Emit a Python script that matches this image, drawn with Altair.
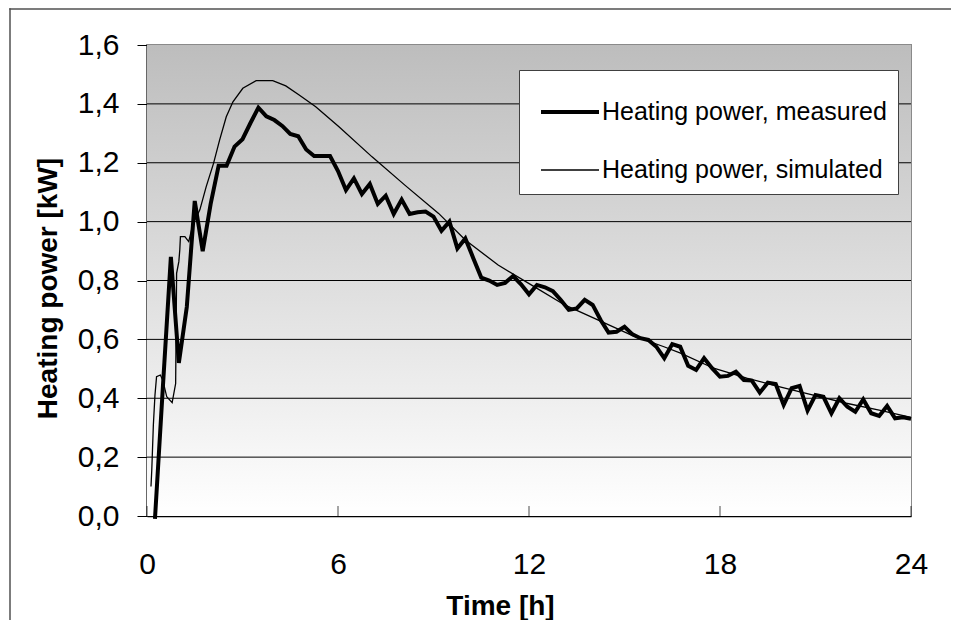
import altair as alt
import pandas as pd

# ---- data ----
series_names = ["Heating power, measured", "Heating power, simulated"]

meas_t = [0.25, 0.5, 0.75, 1.0, 1.25, 1.5, 1.75, 2.0, 2.25, 2.5, 2.75, 3.0, 3.25, 3.5, 3.75,
          4.0, 4.25, 4.5, 4.75, 5.0, 5.25, 5.5, 5.75, 6.0, 6.25, 6.5, 6.75, 7.0, 7.25, 7.5,
          7.75, 8.0, 8.25, 8.5, 8.75, 9.0, 9.25, 9.5, 9.75, 10.0, 10.25, 10.5, 10.75, 11.0,
          11.25, 11.5, 11.75, 12.0, 12.25, 12.5, 12.75, 13.0, 13.25, 13.5, 13.75, 14.0,
          14.25, 14.5, 14.75, 15.0, 15.25, 15.5, 15.75, 16.0, 16.25, 16.5, 16.75, 17.0,
          17.25, 17.5, 17.75, 18.0, 18.25, 18.5, 18.75, 19.0, 19.25, 19.5, 19.75, 20.0,
          20.25, 20.5, 20.75, 21.0, 21.25, 21.5, 21.75, 22.0, 22.25, 22.5, 22.75, 23.0,
          23.25, 23.5, 23.75, 24.0]
meas_p = [-0.01, 0.44, 0.88, 0.52, 0.71, 1.07, 0.90, 1.06, 1.19, 1.19, 1.255, 1.28, 1.335,
          1.387, 1.358, 1.345, 1.325, 1.298, 1.29, 1.245, 1.223, 1.223, 1.223, 1.172, 1.107,
          1.147, 1.094, 1.128, 1.06, 1.088, 1.026, 1.075, 1.026, 1.032, 1.034, 1.017, 0.969,
          1.0, 0.909, 0.943, 0.876, 0.81, 0.80, 0.785, 0.792, 0.815, 0.787, 0.753, 0.785,
          0.777, 0.764, 0.734, 0.70, 0.705, 0.734, 0.717, 0.666, 0.623, 0.626, 0.643, 0.617,
          0.604, 0.598, 0.575, 0.536, 0.584, 0.575, 0.51, 0.496, 0.536, 0.502, 0.473, 0.476,
          0.49, 0.462, 0.46, 0.419, 0.453, 0.448, 0.377, 0.434, 0.442, 0.358, 0.411, 0.405,
          0.349, 0.40, 0.371, 0.354, 0.396, 0.349, 0.34, 0.374, 0.332, 0.335, 0.33]

sim_t = [0.125, 0.15, 0.2, 0.25, 0.3, 0.42, 0.5, 0.62, 0.79, 0.9, 0.93, 1.0, 1.03, 1.05,
         1.19, 1.31, 1.45, 1.66, 1.86, 2.09, 2.28, 2.49, 2.7, 3.01, 3.43, 3.95, 4.36, 4.78,
         5.3, 6.03, 7.07, 8.1, 9.16, 10.0, 11.03, 12.07, 13.12, 14.16, 15.2, 16.24, 16.76,
         17.8, 18.84, 19.88, 20.93, 21.97, 23.0, 24.0]
sim_p = [0.10, 0.156, 0.31, 0.41, 0.473, 0.479, 0.46, 0.405, 0.385, 0.45, 0.824, 0.864,
         0.904, 0.949, 0.949, 0.932, 0.994, 1.04, 1.119, 1.198, 1.277, 1.356, 1.407, 1.453,
         1.479, 1.479, 1.461, 1.43, 1.39, 1.322, 1.22, 1.124, 1.028, 0.9375, 0.8526, 0.785,
         0.717, 0.666, 0.615, 0.575, 0.553, 0.502, 0.468, 0.439, 0.411, 0.383, 0.36, 0.335]

x_ticks = [0, 6, 12, 18, 24]
y_ticks = [0.0, 0.2, 0.4, 0.6, 0.8, 1.0, 1.2, 1.4, 1.6]
grid_vals = [0.2, 0.4, 0.6, 0.8, 1.0, 1.2, 1.4]

X_TITLE = "Time [h]"
Y_TITLE = "Heating power [kW]"

# ---- build tables ----
df = pd.concat([
    pd.DataFrame({"t": meas_t, "p": meas_p, "series": series_names[0]}),
    pd.DataFrame({"t": sim_t, "p": sim_p, "series": series_names[1]}),
], ignore_index=True)
one = pd.DataFrame({"k": [0]})
grid_df = pd.DataFrame({"p": grid_vals})
tick_df = pd.DataFrame({"t": x_ticks})

W, H = 764, 471
PAD = {"left": 139, "top": 37, "right": 40, "bottom": 104}
FONT = "Arial, Liberation Sans, sans-serif"
FRAME = "#505050"

xscale = alt.Scale(domain=[0, 24], nice=False, zero=False)
yscale = alt.Scale(domain=[0, 1.6], nice=False)

# outer chart-area border (left and top edges) as thin filled bars
frame_left = alt.Chart(one).mark_rect(fill=FRAME, strokeWidth=0).encode(
    x=alt.value(-137.75), x2=alt.value(-136.25), y=alt.value(-36.75), y2=alt.value(H + PAD["bottom"])
)
frame_top = alt.Chart(one).mark_rect(fill=FRAME, strokeWidth=0).encode(
    x=alt.value(-137.75), x2=alt.value(W + PAD["right"]), y=alt.value(-36.75), y2=alt.value(-35.25)
)

bg = alt.Chart(one).mark_rect(
    fill=alt.Gradient(
        gradient="linear",
        stops=[alt.GradientStop(color="#bdbdbd", offset=0),
               alt.GradientStop(color="#ffffff", offset=1)],
        x1=0, x2=0, y1=0, y2=1,
    )
).encode(x=alt.value(0), x2=alt.value(W), y=alt.value(0), y2=alt.value(H))

grid = alt.Chart(grid_df).mark_rule(color="black", strokeWidth=1).encode(
    y=alt.Y("p:Q", scale=yscale, title=Y_TITLE)
)

xt = alt.Chart(tick_df).mark_tick(orient="vertical", size=10, thickness=1, color="black").encode(
    x=alt.X("t:Q", scale=xscale, title=X_TITLE), y=alt.value(H - 5)
)

leg = alt.Legend(
    title=None, orient="none", legendX=372, legendY=25,
    fillColor="white", strokeColor="#404040", padding=11, symbolOffset=9,
    symbolType="stroke", symbolSize=3364, labelFont=FONT, labelFontSize=25,
    labelColor="black", labelOffset=1, labelLimit=500, rowPadding=15,
)

lines = alt.Chart(df).mark_line().encode(
    x=alt.X("t:Q", scale=xscale, title=X_TITLE, axis=alt.Axis(
        values=x_ticks, title=X_TITLE, ticks=False, labelPadding=33,
        labelFont=FONT, labelFontSize=30, labelColor="black", labelFlush=False,
        titleFont=FONT, titleFontSize=28, titleFontWeight="bold", titleColor="black",
        titleX=353, titleY=98, titleBaseline="alphabetic", titleAlign="center",
        domainColor="black", domainWidth=1.5, grid=False)),
    y=alt.Y("p:Q", scale=yscale, title=Y_TITLE, axis=alt.Axis(
        values=y_ticks, labelExpr="replace(format(datum.value, '.1f'), '.', ',')",
        title=Y_TITLE, tickSize=10, tickColor="black", labelPadding=18,
        labelFont=FONT, labelFontSize=30, labelColor="black", labelFlush=False,
        titleFont=FONT, titleFontSize=28, titleFontWeight="bold", titleColor="black",
        titleX=-99, titleY=243, titleAngle=-90, titleBaseline="middle", titleAlign="center",
        domainColor="black", domainWidth=1.5, grid=False)),
    color=alt.Color("series:N", scale=alt.Scale(domain=series_names, range=["black", "black"]),
                    legend=leg),
    strokeWidth=alt.StrokeWidth("series:N", scale=alt.Scale(domain=series_names, range=[4, 1.3]),
                                legend=leg),
)

# draw order: frame, background, grid, ticks, then lines on top
chart = alt.layer(frame_left, frame_top, bg, grid, xt, lines).properties(
    width=W, height=H,
    autosize=alt.AutoSizeParams(type="none"),
    padding=PAD,
).configure_view(stroke="#8a8a8a", strokeWidth=2).configure_axis(grid=False)

chart.save("out.html", embed_options={"renderer": "svg", "actions": False})
